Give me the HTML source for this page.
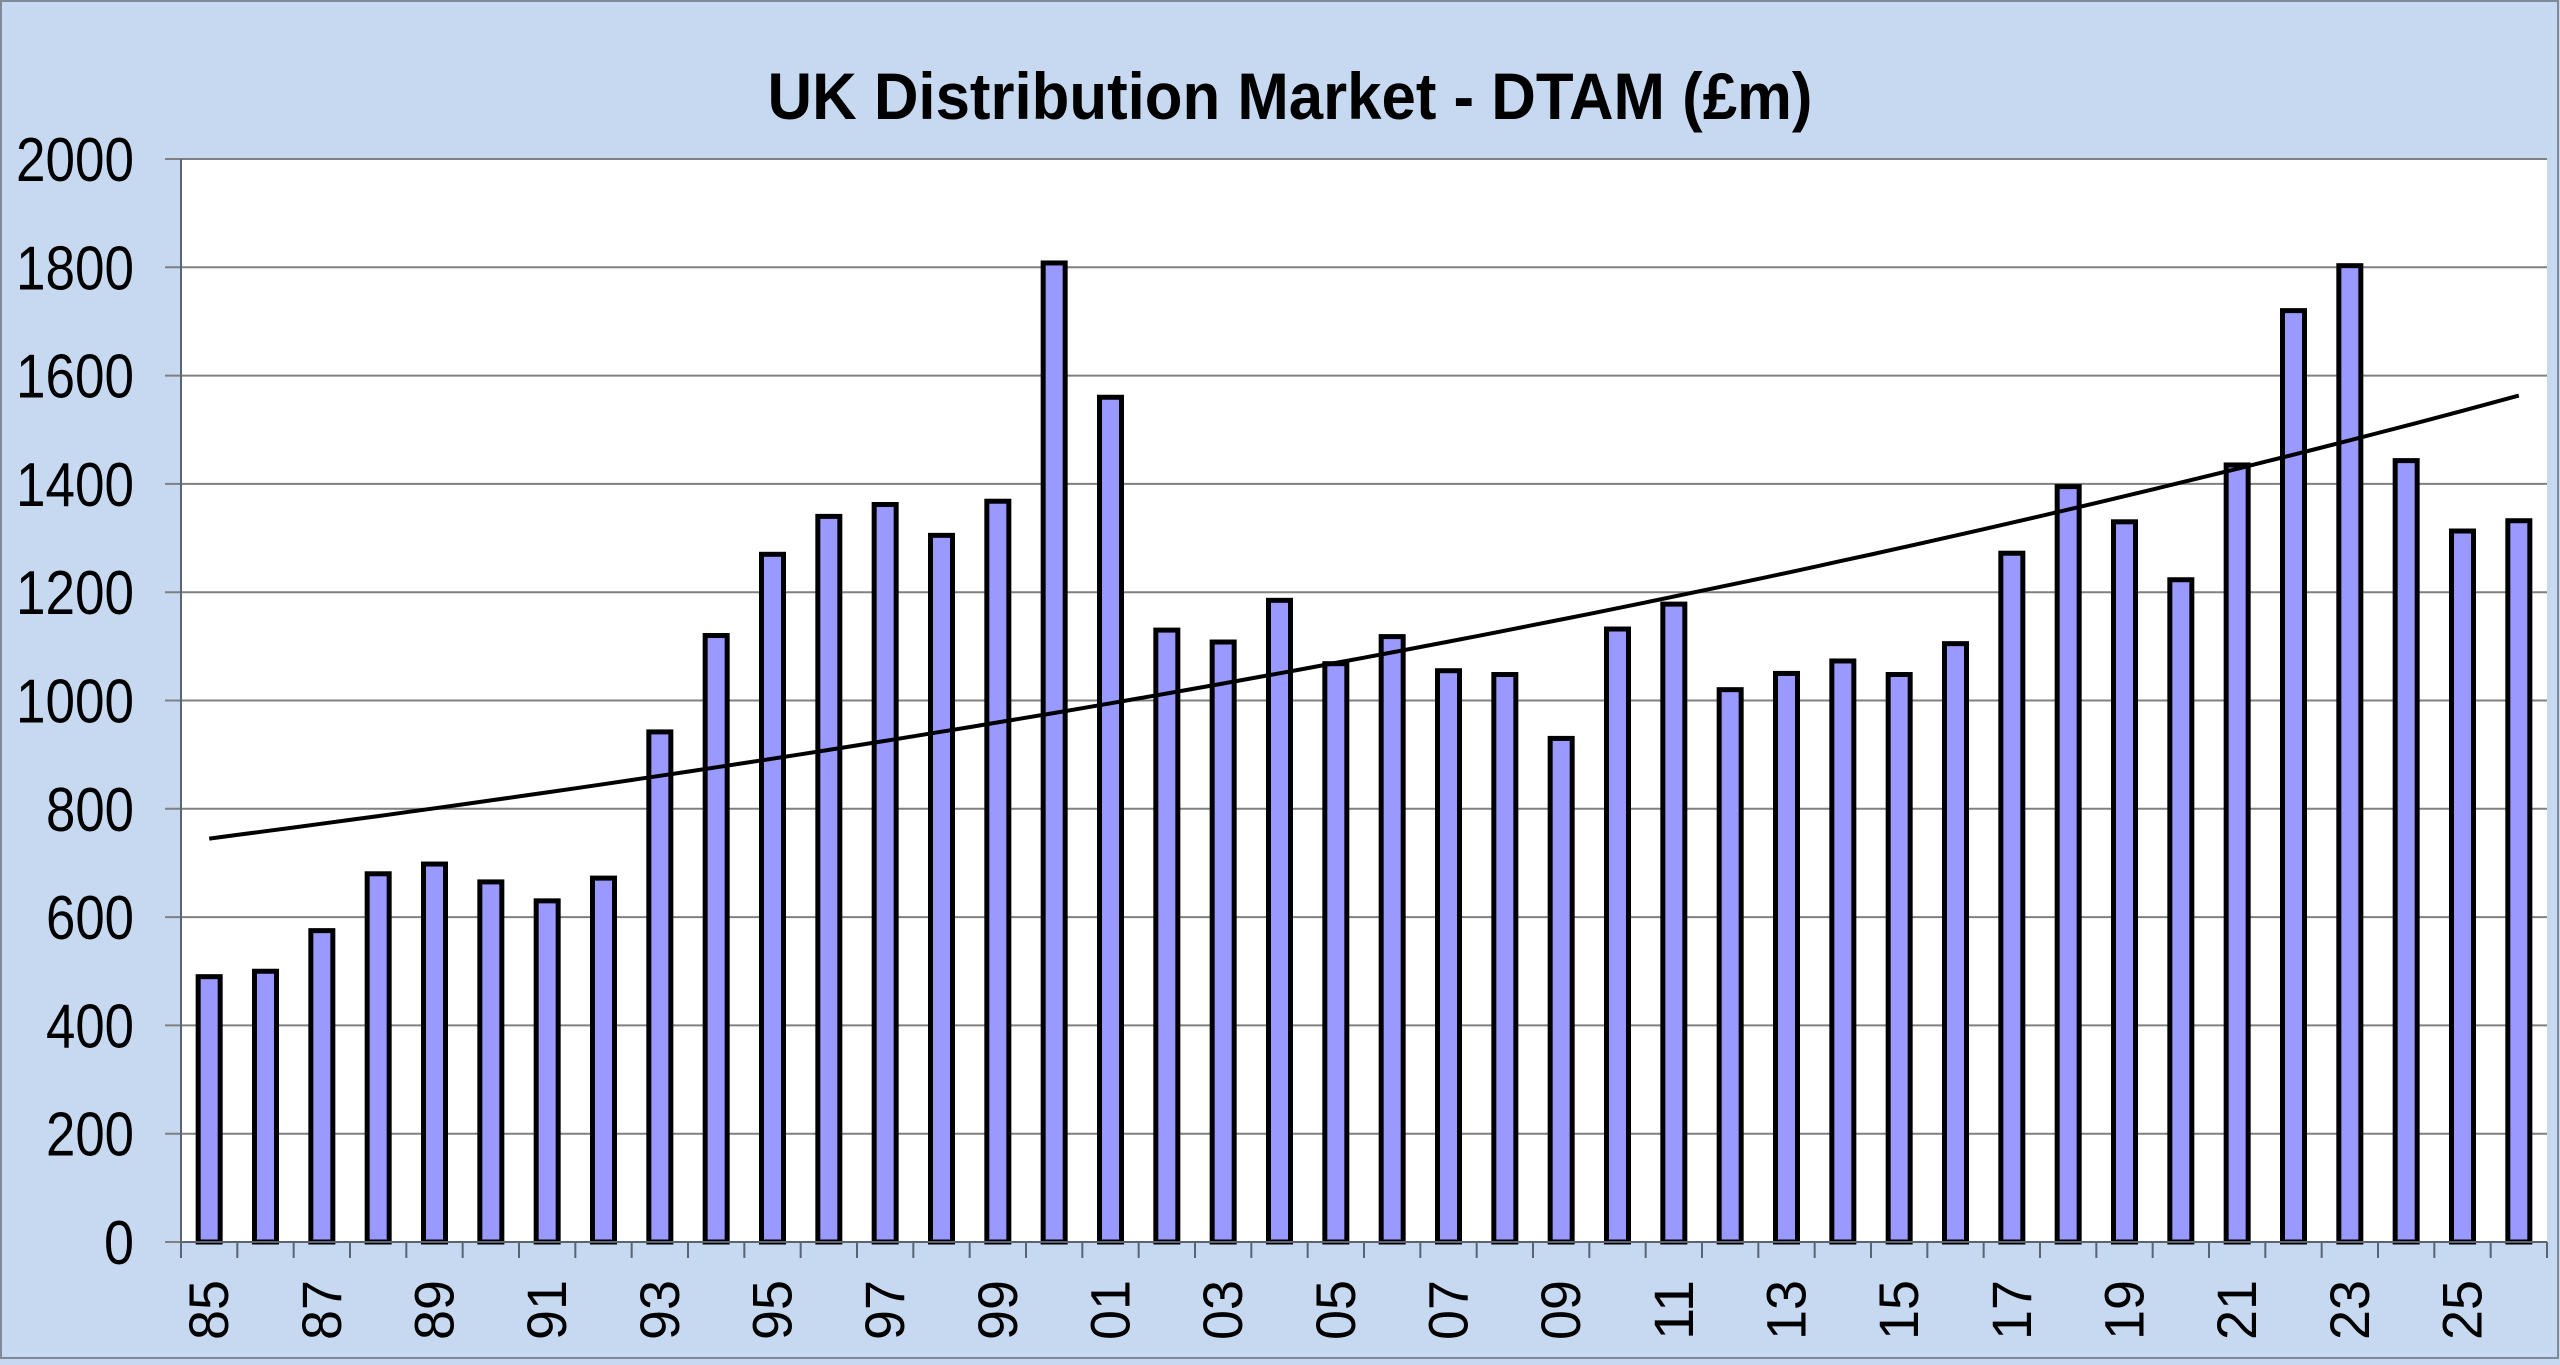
<!DOCTYPE html>
<html><head><meta charset="utf-8"><style>html,body{margin:0;padding:0;background:#c6d9f0}</style></head>
<body>
<svg width="2560" height="1360" viewBox="0 0 2560 1360" xmlns="http://www.w3.org/2000/svg" font-family="Liberation Sans, Arial, sans-serif">
<rect x="0" y="0" width="2560" height="1360" fill="#c6d9f0"/>
<rect x="1" y="1" width="2557" height="1357" fill="none" stroke="#7f8a99" stroke-width="2"/>
<text x="1290" y="119" text-anchor="middle" font-size="66" font-weight="bold" textLength="1045" lengthAdjust="spacingAndGlyphs" fill="#000">UK Distribution Market - DTAM (£m)</text>
<rect x="181" y="159" width="2366" height="1083" fill="#fff"/>
<g id="grid" stroke="#808080" stroke-width="2"></g>
<g id="ylab" font-size="62" fill="#000" text-anchor="end"></g>
<g id="bars" fill="#9999ff" stroke="#000" stroke-width="5"></g>
<g id="ticks" stroke="#5a6473" stroke-width="2"></g>
<g id="xlab" font-size="56" fill="#000"></g>
<path id="trend" fill="none" stroke="#000" stroke-width="4"/>
<line x1="181" y1="159" x2="181" y2="1242" stroke="#5a6473" stroke-width="2"/>
</svg>
<script>
var NS="http://www.w3.org/2000/svg";
function el(t,a,p,txt){var e=document.createElementNS(NS,t);for(var k in a)e.setAttribute(k,a[k]);if(txt!=null)e.textContent=txt;document.getElementById(p).appendChild(e);return e;}
var L=181,R=2547,Y0=1242,ppu=1083/2000,cw=(R-L)/42;
for(var v=0;v<=2000;v+=200){var y=Y0-v*ppu;el('line',{x1:165,x2:R,y1:y,y2:y},'grid');
el('text',{x:134,y:y+22,textLength:(v>=1000?118:v>0?88:30),lengthAdjust:'spacingAndGlyphs'},'ylab',String(v));}
var d=[490,500,575,680,698,665,630,672,942,1120,1270,1340,1362,1305,1368,1808,1560,1130,1108,1185,1068,1118,1055,1048,930,1132,1178,1020,1050,1073,1048,1105,1272,1395,1330,1223,1435,1720,1803,1443,1313,1332];
for(var i=0;i<42;i++){var c=L+(i+0.5)*cw,h=d[i]*ppu;
el('rect',{x:c-11,y:Y0-h,width:22,height:h},'bars');
el('line',{x1:L+i*cw,x2:L+i*cw,y1:Y0,y2:Y0+16},'ticks');
if(i%2==0){var yr=(85+i)%100;var s=(yr<10?'0':'')+yr;
el('text',{x:0,y:0,'text-anchor':'middle',transform:'translate('+(c+19)+',1310) rotate(-90)',textLength:60,lengthAdjust:'spacingAndGlyphs'},'xlab',s);}}
el('line',{x1:R,x2:R,y1:Y0,y2:Y0+16},'ticks');
el('line',{x1:L,x2:R,y1:Y0,y2:Y0},'ticks');
var p='';var r=Math.log(1563/745)/41;
for(var i=0;i<=41;i+=0.5){var x=L+(i+0.5)*cw,y=Y0-745*Math.exp(r*i)*ppu;p+=(i==0?'M':'L')+x.toFixed(1)+' '+y.toFixed(1);}
document.getElementById('trend').setAttribute('d',p);
</script>
</body></html>
